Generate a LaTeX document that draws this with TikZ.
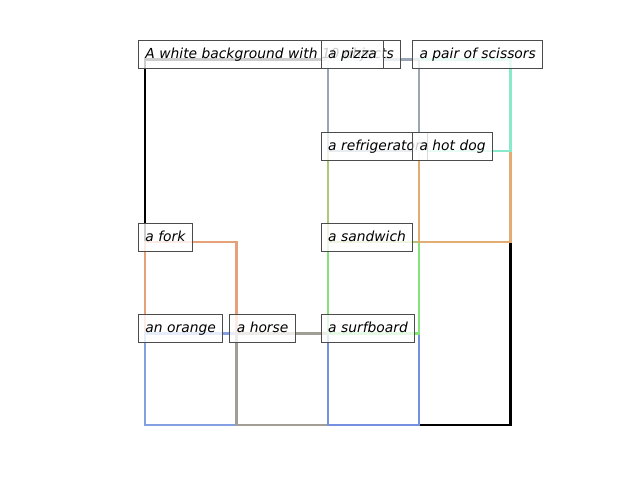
\documentclass[tikz,border=0pt]{standalone}
\usepackage{fontspec}
\setmainfont{DejaVu Sans}[ItalicFont={DejaVu Sans Oblique}]
\definecolor{cslate}{HTML}{9AA6B6}
\definecolor{cteal}{HTML}{88EACB}
\definecolor{cyg}{HTML}{B2C877}
\definecolor{chot}{HTML}{E2AC72}
\definecolor{cfork}{HTML}{E6A178}
\definecolor{cgreen}{HTML}{84E47A}
\definecolor{cblueA}{HTML}{83A0E2}
\definecolor{cgray}{HTML}{A19E95}
\definecolor{cblueB}{HTML}{7590E0}
\begin{document}
\begin{tikzpicture}[x=0.7227pt,y=-0.7227pt,
  bbox/.style={line width=1.8pt},
  lab/.style={draw=black!70, line width=0.7pt, fill=white, fill opacity=0.8, text opacity=1,
    anchor=west, inner xsep=5.06pt, inner ysep=0pt, minimum height=20.24pt,
    text height=8.2pt, text depth=2pt, font=\itshape\fontsize{10pt}{12pt}\selectfont}]
\useasboundingbox (0,0) rectangle (640,480);
% grid coordinates
\coordinate (g00) at (145,59.5);
\coordinate (g02) at (327.75,59.5);
\coordinate (g03) at (419.1,59.5);
\coordinate (g12) at (327.75,150.9);
\coordinate (g13) at (419.1,150.9);
\coordinate (g14) at (510.5,150.9);
\coordinate (g20) at (145,242.25);
\coordinate (g21) at (236.4,242.25);
\coordinate (g22) at (327.75,242.25);
\coordinate (g23) at (419.1,242.25);
\coordinate (g24) at (510.5,242.25);
\coordinate (g30) at (145,333.6);
\coordinate (g31) at (236.4,333.6);
\coordinate (g32) at (327.75,333.6);
\coordinate (g33) at (419.1,333.6);
\coordinate (g41) at (236.4,425);
\coordinate (g42) at (327.75,425);
\coordinate (g43) at (419.1,425);
\coordinate (g44) at (510.5,425);
% bounding boxes
\draw[bbox,black] (g00) rectangle (g44);
\draw[bbox,cfork] (g20) rectangle (g31);
\draw[bbox,cblueA] (g30) rectangle (g41);
\draw[bbox,cgray] (g31) rectangle (g42);
\draw[bbox,cblueB] (g32) rectangle (g43);
\draw[bbox,cgreen] (g22) rectangle (g33);
\draw[bbox,cyg] (g12) rectangle (g23);
\draw[bbox,chot] (g13) rectangle (g24);
\draw[bbox,cteal] (g03) rectangle (g14);
\draw[bbox,cslate] (g02) rectangle (g13);
% labels
\node[lab] (root) at (138,54.5) {A white background with 10 objects};
\node[lab] (pizza) at (320.75,54.5) {a pizza};
\node[lab] (scissors) at (412.1,54.5) {a pair of scissors};
\node[lab] (fridge) at (320.75,146) {a refrigerator};
\node[lab] (hotdog) at (412.1,146) {a hot dog};
\node[lab] (fork) at (138,237.3) {a fork};
\node[lab] (sandwich) at (320.75,237.3) {a sandwich};
\node[lab] (orange) at (138,328.6) {an orange};
\node[lab] (horse) at (229.4,328.6) {a horse};
\node[lab] (surfboard) at (320.75,328.6) {a surfboard};
\end{tikzpicture}
\end{document}
